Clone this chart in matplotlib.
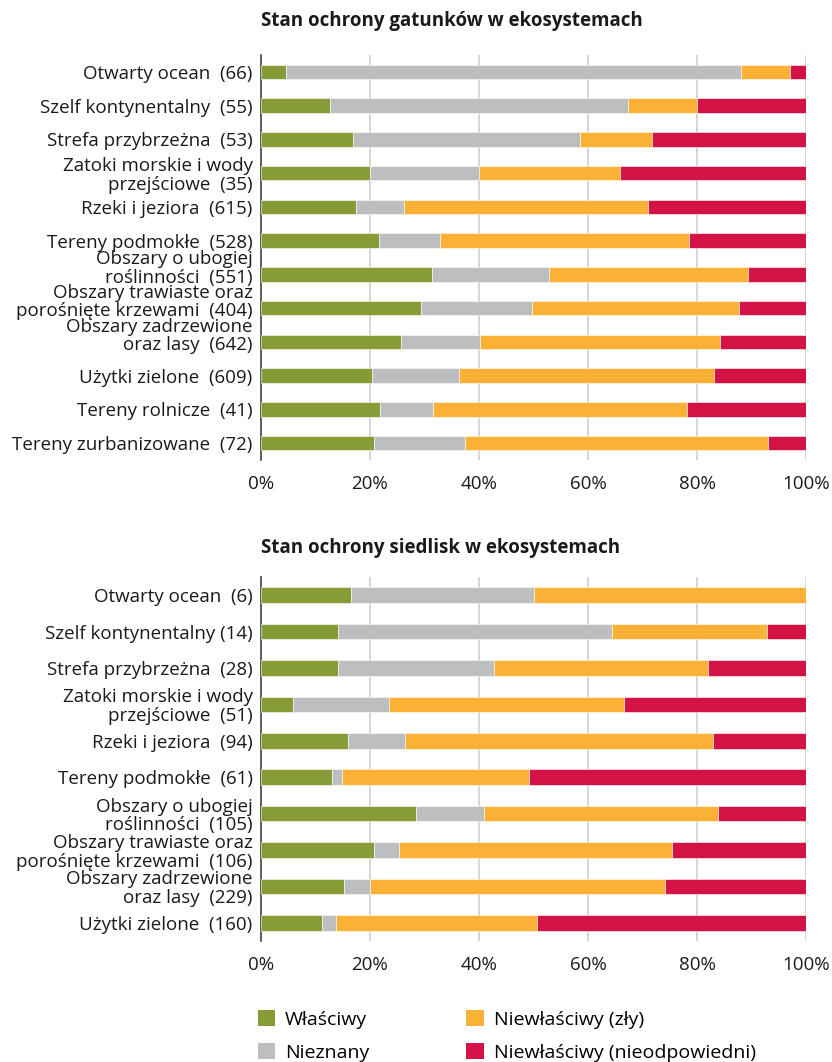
import matplotlib.pyplot as plt
import matplotlib.transforms as mtransforms
import numpy as np
from matplotlib.patches import Patch

plt.rcParams['font.family'] = ['Open Sans', 'DejaVu Sans']

# Series names and colours
series = ['Właściwy', 'Nieznany', 'Niewłaściwy (zły)', 'Niewłaściwy (nieodpowiedni)']
colors = ['#879C37', '#BDBEC0', '#FBB036', '#D31245']

# --- Species (gatunki) ---
species_labels = [
    'Otwarty ocean  (66)',
    'Szelf kontynentalny  (55)',
    'Strefa przybrzeżna  (53)',
    'Zatoki morskie i wody\nprzejściowe  (35)',
    'Rzeki i jeziora  (615)',
    'Tereny podmokłe  (528)',
    'Obszary o ubogiej\nroślinności  (551)',
    'Obszary trawiaste oraz\nporośnięte krzewami  (404)',
    'Obszary zadrzewione\noraz lasy  (642)',
    'Użytki zielone  (609)',
    'Tereny rolnicze  (41)',
    'Tereny zurbanizowane  (72)',
]
species_good    = [4.5, 12.6, 16.9, 20.0, 17.4, 21.7, 31.4, 29.4, 25.7, 20.3, 21.9, 20.8]
species_unknown = [83.5, 54.7, 41.6, 20.0, 8.9, 11.1, 21.4, 20.3, 14.4, 16.0, 9.7, 16.7]
species_bad     = [9.0, 12.7, 13.2, 25.8, 44.7, 45.7, 36.5, 38.0, 44.1, 46.8, 46.5, 55.6]
species_inadeq  = [3.0, 20.0, 28.3, 34.2, 29.0, 21.5, 10.7, 12.3, 15.8, 16.9, 21.9, 6.9]

# --- Habitats (siedliska) ---
habitat_labels = [
    'Otwarty ocean  (6)',
    'Szelf kontynentalny (14)',
    'Strefa przybrzeżna  (28)',
    'Zatoki morskie i wody\nprzejściowe  (51)',
    'Rzeki i jeziora  (94)',
    'Tereny podmokłe  (61)',
    'Obszary o ubogiej\nroślinności  (105)',
    'Obszary trawiaste oraz\nporośnięte krzewami  (106)',
    'Obszary zadrzewione\noraz lasy  (229)',
    'Użytki zielone  (160)',
]
habitat_good    = [16.6, 14.2, 14.2, 5.9, 15.9, 13.1, 28.5, 20.7, 15.3, 11.2]
habitat_unknown = [33.4, 50.2, 28.6, 17.6, 10.6, 1.7, 12.4, 4.7, 4.7, 2.5]
habitat_bad     = [50.0, 28.5, 39.3, 43.1, 56.5, 34.4, 42.9, 50.1, 54.2, 36.9]
habitat_inadeq  = [0.0, 7.1, 17.9, 33.4, 17.0, 50.8, 16.2, 24.5, 25.8, 49.4]


def draw_stacked(ax, labels, values, title, title_pad):
    y = np.arange(len(labels))
    left = np.zeros(len(labels))
    for vals, color in zip(values, colors):
        ax.barh(y, vals, left=left, height=0.43, color=color, edgecolor='white', linewidth=0.4, zorder=3)
        left += np.array(vals)
    ax.set_yticks(y)
    ax.set_yticklabels(labels, fontsize=13.5, color='#1a1a1a', linespacing=1.05)
    ax.set_ylim(len(labels) - 0.5, -0.5)
    ax.set_xlim(0, 100)
    ax.set_xticks([0, 20, 40, 60, 80, 100])
    ax.set_xticklabels(['0%', '20%', '40%', '60%', '80%', '100%'], fontsize=13.5, color='#1a1a1a')
    ax.tick_params(axis='y', length=0, pad=6)
    ax.tick_params(axis='x', length=0, pad=11)
    ax.grid(axis='x', color='#cfcfcf', linewidth=1.2, zorder=0)
    for s in ['top', 'right', 'bottom']:
        ax.spines[s].set_visible(False)
    ax.spines['left'].set_color('#444444')
    ax.spines['left'].set_linewidth(1.2)
    ax.set_title(title, loc='left', fontsize=13.5, fontweight='bold', pad=title_pad, color='#1a1a1a')


fig = plt.figure(figsize=(8.32, 10.62), dpi=100)

ax1 = fig.add_axes([261 / 832, 1 - 460 / 1062, 545 / 832, 405 / 1062])
draw_stacked(ax1, species_labels,
             [species_good, species_unknown, species_bad, species_inadeq],
             'Stan ochrony gatunków w ekosystemach', 21)

# in the top panel a few two-line labels sit a little higher than their bar
for i, lab in enumerate(ax1.get_yticklabels()):
    if i in (6, 7, 8):
        shift = mtransforms.ScaledTranslation(0, 6 / 72, fig.dpi_scale_trans)
        lab.set_transform(lab.get_transform() + shift)

ax2 = fig.add_axes([261 / 832, 1 - 941 / 1062, 545 / 832, 364 / 1062])
draw_stacked(ax2, habitat_labels,
             [habitat_good, habitat_unknown, habitat_bad, habitat_inadeq],
             'Stan ochrony siedlisk w ekosystemach', 17)

# Legend, two columns
handles = [Patch(facecolor=c, edgecolor='none') for c in colors]
fig.legend(handles, series, ncol=2, frameon=False, fontsize=14,
           loc='center left', bbox_to_anchor=(250 / 832, 1 - 1036 / 1062),
           handlelength=0.9, handleheight=0.9, handletextpad=0.5,
           columnspacing=5.0, labelspacing=0.72, borderaxespad=0)

plt.savefig('out.png', dpi=100)
